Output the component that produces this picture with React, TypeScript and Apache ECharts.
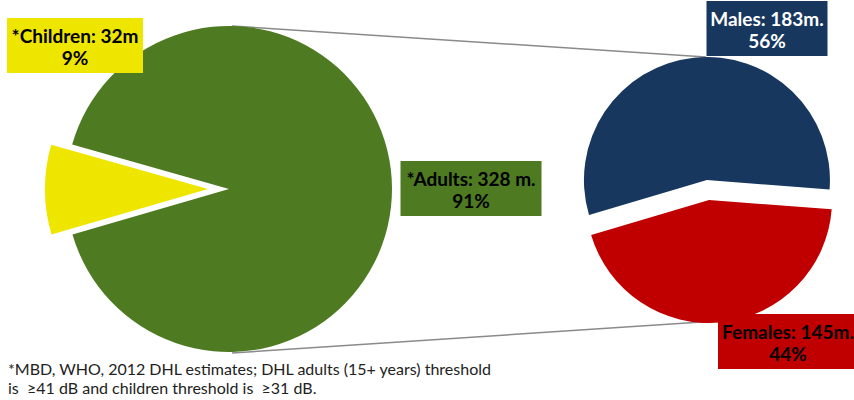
import React, { useEffect, useRef } from "react";
import * as echarts from "echarts";

const leftNames = ["*Children: 32m", "*Adults: 328 m."];
const leftValues = [32, 328];
const leftColors = ["#EFE600", "#4E7A21"];

const rightNames = ["Males: 183m.", "Females: 145m."];
const rightValues = [183, 145];
const rightColors = ["#17375E", "#C00000"];

const footnote = [
  "*MBD, WHO, 2012 DHL estimates; DHL adults (15+ years) threshold",
  "is  \u226541 dB and children threshold is  \u226531 dB.",
];

const FONT = "Lato, 'Open Sans', sans-serif";

function pct(values: number[], i: number) {
  const total = values.reduce((a, b) => a + b, 0);
  return Math.round((values[i] / total) * 100);
}

export default function App() {
  const ref = useRef<HTMLDivElement>(null);
  useEffect(() => {
    if (!ref.current) return;
    const chart = echarts.init(ref.current, null, { renderer: "svg" });

    const leftBoxes = [
      { x: 75, y: 18, w: 136, color: "#000" },
      { x: 471, y: 161, w: 141, color: "#000" },
    ];
    const rightBoxes = [
      { x: 767, y: 1, w: 121, color: "#fff" },
      { x: 788, y: 314, w: 140, color: "#000" },
    ];

    const mkBox = (names: string[], values: number[], colors: string[], boxes: any[]) =>
      names.map((n, i) => ({
        type: "text",
        z: 10,
        x: boxes[i].x,
        y: boxes[i].y,
        style: {
          text: `${n}\n${pct(values, i)}%`,
          font: `bold 19px ${FONT}`,
          fill: boxes[i].color,
          lineHeight: 22,
          width: boxes[i].w,
          align: "center",
          verticalAlign: "top",
          backgroundColor: colors[i],
          padding: [6, 0, 5, 0],
        },
      }));

    chart.setOption({
      animation: false,
      graphic: [
        {
          type: "line",
          z: 1,
          shape: { x1: 232, y1: 26, x2: 706, y2: 57 },
          style: { stroke: "#8a8a8a", lineWidth: 1.5 },
        },
        {
          type: "line",
          z: 1,
          shape: { x1: 232, y1: 353, x2: 717, y2: 321 },
          style: { stroke: "#8a8a8a", lineWidth: 1.5 },
        },
        {
          type: "text",
          left: 8,
          top: 359,
          style: {
            text: footnote.join("\n"),
            font: `16px ${FONT}`,
            fill: "#222",
            lineHeight: 19,
          },
        },
        ...mkBox(leftNames, leftValues, leftColors, leftBoxes),
        ...mkBox(rightNames, rightValues, rightColors, rightBoxes),
      ],
      series: [
        {
          type: "pie",
          center: [229, 189],
          radius: 163,
          startAngle: 196.2,
          clockwise: true,
          selectedMode: "multiple",
          selectedOffset: 21,
          emphasis: { disabled: true },
          label: { show: false },
          labelLine: { show: false },
          data: leftValues.map((v, i) => ({
            value: v,
            name: leftNames[i],
            selected: i === 0,
            itemStyle: { color: leftColors[i] },
          })),
        },
        {
          type: "pie",
          center: [708, 190],
          radius: 123,
          startAngle: 196.5,
          clockwise: true,
          selectedMode: "multiple",
          selectedOffset: 10,
          emphasis: { disabled: true },
          label: { show: false },
          labelLine: { show: false },
          data: rightValues.map((v, i) => ({
            value: v,
            name: rightNames[i],
            selected: true,
            itemStyle: { color: rightColors[i] },
          })),
        },
      ],
    });
    return () => chart.dispose();
  }, []);
  return (
    <div
      ref={ref}
      style={{ position: "fixed", left: 0, top: 0, width: 854, height: 400, background: "#fff" }}
    />
  );
}
